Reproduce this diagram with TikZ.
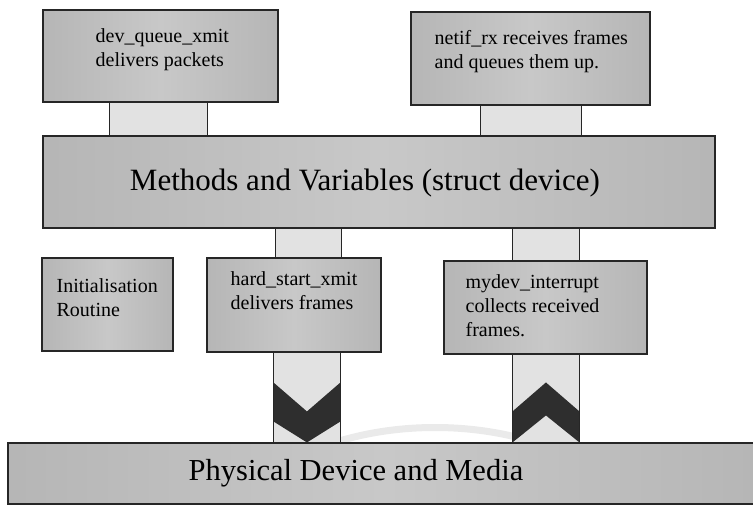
\documentclass[tikz,border=0pt]{standalone}
\usepackage{fontspec}
\setmainfont{Liberation Serif}
\usetikzlibrary{calc}

\definecolor{mA}{RGB}{178,178,178}
\definecolor{mB}{RGB}{216,216,216}
\definecolor{mC}{RGB}{238,238,238}
\definecolor{mD}{RGB}{200,200,200}
\definecolor{linkfill}{RGB}{226,226,226}
\definecolor{chev}{RGB}{46,46,46}
\definecolor{swoosh}{RGB}{234,234,234}

% brushed-metal look for the boxes, varying from left to right
\pgfdeclarehorizontalshading{metal}{100bp}{%
  color(0bp)=(mA); color(6bp)=(mB); color(12bp)=(mC); color(20bp)=(mA);
  color(50bp)=(mD); color(80bp)=(mA); color(94bp)=(mB); color(100bp)=(mA)}

\pgfdeclarelayer{back}
\pgfsetlayers{back,main}

\tikzset{
  panel/.style={draw=black!85, line width=1.1pt, shading=metal, inner sep=0pt},
  link/.style={draw=black!85, line width=1.1pt, fill=linkfill},
  boxtext/.style={font=\fontsize{20}{24}\selectfont, align=left, anchor=north west, inner sep=0pt},
  bigtext/.style={font=\fontsize{31}{35}\selectfont, inner sep=0pt},
  chevron/.style={fill=chev, draw=none}
}

\begin{document}
\begin{tikzpicture}[x=1pt,y=-1pt]
\useasboundingbox (0,0) rectangle (753,508);

% upper layer
\node[panel, minimum width=235pt, minimum height=92pt] (qx)   at (160.5,56)   {};
\node[panel, minimum width=239pt, minimum height=93pt] (nrx)  at (530.5,58.5) {};
\node[panel, minimum width=672pt, minimum height=92pt] (meth) at (379,182)    {};

% driver layer
\node[panel, minimum width=131pt, minimum height=93pt] (init) at (107.5,304.5) {};
\node[panel, minimum width=174pt, minimum height=94pt] (hsx)  at (294,305)     {};
\node[panel, minimum width=203pt, minimum height=93pt] (myd)  at (545.5,307.5) {};

% hardware
\node[panel, minimum width=752pt, minimum height=61pt] (phys) at (384,473.5) {};

% texts
\node[boxtext] (tqx)  at ($(qx.north west)+(53,19)$)  {dev\_queue\_xmit\\delivers packets};
\node[boxtext] (tnrx) at ($(nrx.north west)+(24,19)$) {netif\_rx receives frames\\and queues them up.};
\node[bigtext] (tmeth) at ($(meth.center)+(-14,1)$) {Methods and Variables (struct device)};
\node[bigtext, font=\fontsize{30.5}{34}\selectfont] (tphys) at ($(phys.center)+(-28,0)$) {Physical Device and Media};
\node[boxtext] (tinit) at ($(init.north west)+(15,21)$) {Initialisation\\Routine};
\node[boxtext] (thsx)  at ($(hsx.north west)+(24,14)$)  {hard\_start\_xmit\\delivers frames};
\node[boxtext] (tmyd)  at ($(myd.north west)+(22,14)$)  {mydev\_interrupt\\collects received\\frames.};

\begin{pgfonlayer}{back}
  % faint swoosh behind the diagram
  \draw[swoosh, line width=7pt] (300,456) .. controls (380,418) and (490,418) .. (570,456);

  % links between the layers
  \draw[link] ($(qx.south west)+(67,0)$)   rectangle ($(meth.north west)+(165,0)$);
  \draw[link] ($(nrx.south west)+(70,0)$)  rectangle ($(meth.north west)+(539,0)$);
  \draw[link] ($(meth.south west)+(233,0)$) rectangle ($(hsx.north west)+(135,0)$);
  \draw[link] ($(meth.south west)+(470,0)$) rectangle ($(myd.north west)+(136,0)$);

  % transmit and receive channels to the hardware
  \draw[link] ($(hsx.south west)+(67,0)$) coordinate (tl) rectangle ($(phys.north west)+(333,0)$) coordinate (tr);
  \draw[link] ($(myd.south west)+(69,0)$) coordinate (rl) rectangle ($(phys.north west)+(572,0)$) coordinate (rr);

  % direction chevrons: down for transmit, up for receive
  \fill[chevron] ($(tl|-phys.north)+(0,-60)$) -- ($(tl|-phys.north)!0.5!(tr)+(0,-31)$) -- ($(tr)+(0,-60)$)
      -- ($(tr)+(0,-21)$) -- ($(tl|-phys.north)!0.5!(tr)$) -- ($(tl|-phys.north)+(0,-21)$) -- cycle;
  \fill[chevron] ($(rl|-phys.north)+(0,-31)$) -- ($(rl|-phys.north)!0.5!(rr)+(0,-60)$) -- ($(rr)+(0,-31)$)
      -- (rr) -- ($(rl|-phys.north)!0.5!(rr)+(0,-27)$) -- (rl|-phys.north) -- cycle;
  \draw[black!85, line width=1.1pt] (tl) -- (tl|-phys.north) (tr) -- (tr|-hsx.south);
  \draw[black!85, line width=1.1pt] (rl) -- (rl|-phys.north) (rr) -- (rr|-myd.south);
\end{pgfonlayer}
\end{tikzpicture}
\end{document}
